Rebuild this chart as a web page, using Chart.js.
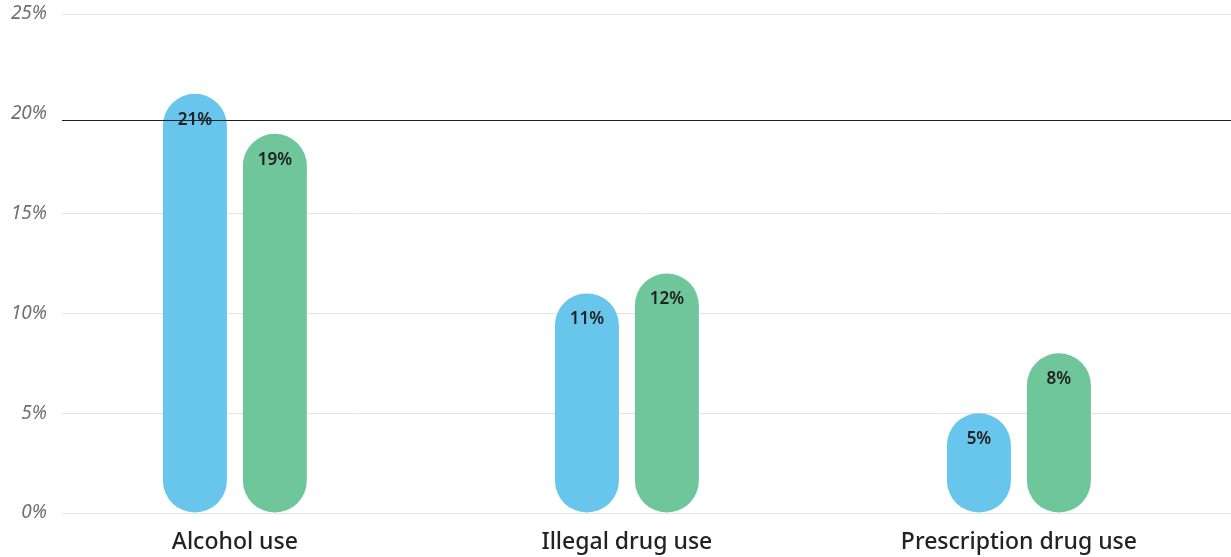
<!DOCTYPE html>
<html>
<head>
<meta charset="utf-8">
<style>
  html, body { margin: 0; padding: 0; background: #fff; }
  #wrap { width: 1231px; height: 557px; }
</style>
<script src="https://cdn.jsdelivr.net/npm/chart.js@4/dist/chart.umd.min.js"></script>
</head>
<body>
<div id="wrap"><canvas id="myChart"></canvas></div>
<script>
  // Chart values
  const categories = ['Alcohol use', 'Illegal drug use', 'Prescription drug use'];
  const seriesA = [21, 11, 5];
  const seriesB = [19, 12, 8];
  const yTicks = [0, 5, 10, 15, 20, 25];
  const refLine = 19.7;

  const blue = '#68c5eb';
  const green = '#70c69b';

  const toPoints = values => values.map((v, i) => ({ x: i, y: v }));

  // Value labels near the top of each bar
  const valueLabels = {
    id: 'valueLabels',
    afterDatasetsDraw(chart) {
      const { ctx } = chart;
      const yScale = chart.scales.y;
      // dark reference line across the plot
      const y = Math.round(yScale.getPixelForValue(refLine)) + 0.5;
      ctx.save();
      ctx.strokeStyle = '#1e1e1e';
      ctx.lineWidth = 1.2;
      ctx.beginPath();
      ctx.moveTo(chart.chartArea.left, y);
      ctx.lineTo(chart.chartArea.right, y);
      ctx.stroke();

      ctx.fillStyle = '#222';
      ctx.font = '600 17px "Noto Sans"';
      ctx.textAlign = 'center';
      ctx.textBaseline = 'middle';
      chart.data.datasets.forEach((ds, di) => {
        chart.getDatasetMeta(di).data.forEach((bar, i) => {
          ctx.fillText(ds.data[i].y + '%', bar.x, bar.y + 26);
        });
      });
      ctx.restore();
    }
  };

  const ctx = document.getElementById('myChart');

  const config = {
    type: 'bar',
    data: {
      datasets: [
        {
          label: 'A',
          data: toPoints(seriesA),
          backgroundColor: blue,
        },
        {
          label: 'B',
          data: toPoints(seriesB),
          backgroundColor: green,
        },
      ]
    },
    options: {
      responsive: true,
      maintainAspectRatio: false,
      animation: false,
      layout: { padding: { top: 14, right: 0, left: 0, bottom: 0 } },
      datasets: {
        bar: {
          categoryPercentage: 0.408,
          barPercentage: 0.8,
          borderRadius: 32,
          borderSkipped: false,
        }
      },
      plugins: {
        legend: { display: false },
        tooltip: { enabled: false }
      },
      scales: {
        x: {
          type: 'linear',
          offset: false,
          min: -0.441,
          max: 2.541,
          grid: { display: false, drawTicks: false },
          border: { display: false },
          afterBuildTicks: scale => {
            scale.ticks = categories.map((_, i) => ({ value: i }));
          },
          afterFit: scale => { scale.height = 44; },
          ticks: {
            padding: 16,
            color: '#222',
            font: { family: '"Noto Sans"', size: 23, weight: '500' },
            callback: value => categories[value]
          }
        },
        y: {
          min: 0,
          max: 25,
          grid: {
            drawTicks: false,
            color: ctx => ctx.tick && ctx.tick.value === 20 ? 'rgba(0,0,0,0)' : '#e4e4e4',
            lineWidth: 1
          },
          border: { display: false },
          afterBuildTicks: scale => {
            scale.ticks = yTicks.map(v => ({ value: v }));
          },
          afterFit: scale => {
            scale.width = 62;
            scale.paddingTop = 0;
            scale.paddingBottom = 0;
          },
          ticks: {
            padding: 15,
            color: '#707070',
            font: { family: '"Noto Sans"', size: 19, style: 'italic' },
            callback: value => value + '%'
          }
        }
      }
    },
    plugins: [valueLabels]
  };

  const myChart = new Chart(ctx, config);
</script>
</body>
</html>
